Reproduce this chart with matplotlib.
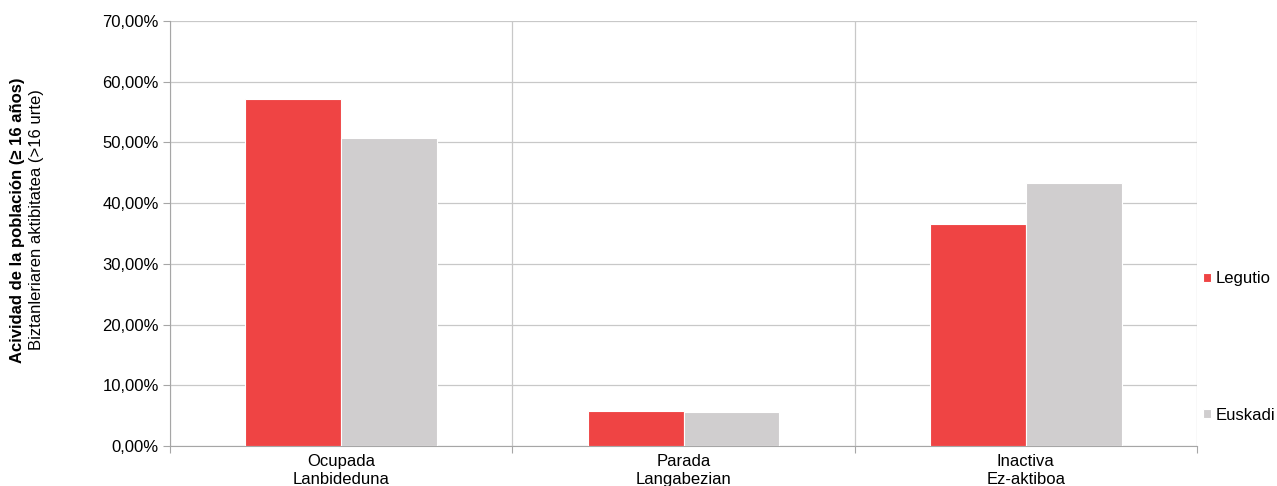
import numpy as np
import matplotlib.pyplot as plt
from matplotlib.ticker import FuncFormatter

plt.rcParams['font.family'] = ['Liberation Sans', 'DejaVu Sans']

categories = ['Ocupada\nLanbideduna', 'Parada\nLangabezian', 'Inactiva\nEz-aktiboa']
legutio = [57.2, 5.8, 36.6]
euskadi = [50.7, 5.6, 43.3]
series_names = ['Legutio', 'Euskadi']

red = '#EF4444'
grey = '#D0CECF'
axis_col = '#A6A6A6'

fig = plt.figure(figsize=(12.77, 4.86), dpi=100)
ax = fig.add_axes([170 / 1277, 40 / 486, (1197 - 170) / 1277, (446 - 21) / 486])

x = np.arange(len(categories))
w = 0.28
b1 = ax.bar(x - w / 2, legutio, w, color=red, edgecolor='white', linewidth=0.8, label=series_names[0], zorder=3)
b2 = ax.bar(x + w / 2, euskadi, w, color=grey, edgecolor='white', linewidth=0.8, label=series_names[1], zorder=3)

ax.set_xlim(-0.5, len(categories) - 0.5)
ax.set_ylim(0, 70)
ax.set_yticks(np.arange(0, 71, 10))
ax.yaxis.set_major_formatter(FuncFormatter(lambda v, p: ('%.2f%%' % v).replace('.', ',')))

# category boundaries as vertical grid
ax.set_xticks(np.arange(len(categories) + 1) - 0.5)
ax.set_xticklabels([])
ax.set_xticks(x, minor=True)
ax.set_xticklabels(categories, minor=True, fontsize=12, linespacing=1.25)
ax.tick_params(axis='x', which='minor', length=0, pad=6)
ax.tick_params(axis='x', which='major', length=5, color=axis_col)
ax.tick_params(axis='y', length=5, color=axis_col, labelsize=12, pad=3)

ax.grid(True, which='major', axis='both', color='#C8C8C8', linewidth=0.9, zorder=0)
for s in ['top', 'right']:
    ax.spines[s].set_visible(False)
for s in ['left', 'bottom']:
    ax.spines[s].set_color(axis_col)

fig.text(18 / 1277, 1 - 220 / 486, 'Acividad de la población (≥ 16 años)', rotation=90,
         ha='center', va='center', fontsize=12, fontweight='bold')
fig.text(37 / 1277, 1 - 220 / 486, 'Biztanleriaren aktibitatea (>16 urte)', rotation=90,
         ha='center', va='center', fontsize=12)

leg = fig.legend(handles=[b1, b2], loc='upper left', bbox_to_anchor=(1203 / 1277, 1 - 271 / 486),
                 frameon=False, fontsize=12, handlelength=0.45, handleheight=0.45,
                 handletextpad=0.3, labelspacing=7.3, borderpad=0, borderaxespad=0)

fig.savefig('out.png', dpi=100)
